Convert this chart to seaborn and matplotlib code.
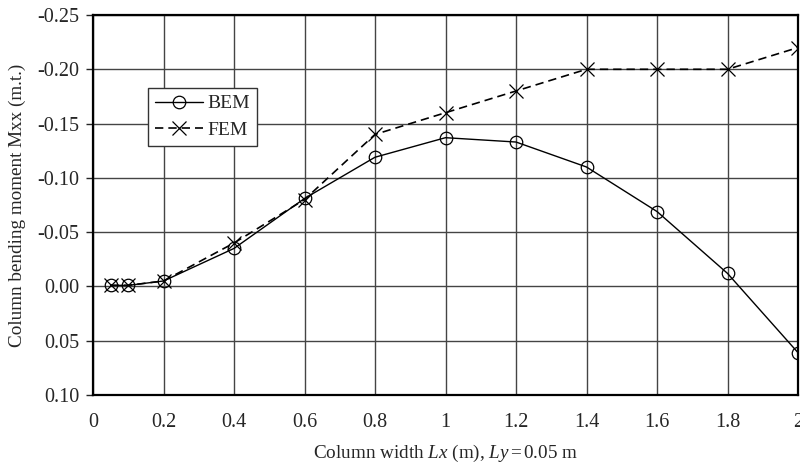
import matplotlib
matplotlib.use("Agg")
import matplotlib.pyplot as plt
import seaborn as sns
import pandas as pd
from matplotlib.ticker import FuncFormatter

# Data
lx = [0.05, 0.1, 0.2, 0.4, 0.6, 0.8, 1.0, 1.2, 1.4, 1.6, 1.8, 2.0]
bem = [-0.001, -0.001, -0.005, -0.035, -0.081, -0.119, -0.137, -0.133, -0.110, -0.069, -0.012, 0.061]
fem = [-0.001, -0.001, -0.005, -0.040, -0.080, -0.140, -0.160, -0.180, -0.200, -0.200, -0.200, -0.220]
xticks = [0, 0.2, 0.4, 0.6, 0.8, 1.0, 1.2, 1.4, 1.6, 1.8, 2.0]
yticks = [-0.25, -0.20, -0.15, -0.10, -0.05, 0.00, 0.05, 0.10]

df = pd.DataFrame({"x": lx, "BEM": bem, "FEM": fem})

sns.set_style("white")
plt.rcParams["font.family"] = ["Liberation Serif", "DejaVu Serif"]
plt.rcParams["mathtext.fontset"] = "custom"
plt.rcParams["mathtext.rm"] = "Liberation Serif"
plt.rcParams["mathtext.it"] = "Liberation Serif:italic"
plt.rcParams["axes.unicode_minus"] = False

fig = plt.figure(figsize=(8, 4.68), dpi=100)
ax = fig.add_axes([93 / 800, 1 - 395 / 468, 705 / 800, 380 / 468])

sns.lineplot(data=df, x="x", y="BEM", ax=ax, color="black", lw=1.0,
             marker="o", markersize=9, markerfacecolor="none",
             markeredgecolor="black", markeredgewidth=0.9, label="BEM")
sns.lineplot(data=df, x="x", y="FEM", ax=ax, color="black", lw=1.2,
             linestyle=(0, (5, 3)), marker="x", markersize=10,
             markeredgecolor="black", markeredgewidth=0.9, label="FEM")

ax.set_xlim(0, 2)
ax.set_ylim(0.10, -0.25)
ax.set_xticks(xticks)
ax.set_yticks(yticks)
ax.xaxis.set_major_formatter(FuncFormatter(lambda v, p: "%g" % v))
ax.yaxis.set_major_formatter(FuncFormatter(lambda v, p: "%.2f" % v))
ax.grid(True, color="#444444", lw=1.0)
ax.set_axisbelow(True)
for s in ax.spines.values():
    s.set_color("black")
    s.set_linewidth(1.6)

ax.tick_params(axis="y", left=True, length=5, width=1, pad=5, labelsize=14.5)
ax.tick_params(axis="x", bottom=False, length=0, pad=13, labelsize=14.5)

ax.set_xlabel(r"Column width $Lx$ (m), $Ly\,$=$\,$0.05 m", fontsize=13.8, labelpad=8)
ax.set_ylabel("Column bending moment Mxx (m.t.)", fontsize=13.8, labelpad=8)

leg = ax.legend(loc="upper left", bbox_to_anchor=(0.078, 0.808), borderaxespad=0,
                fontsize=14, frameon=True, fancybox=False, handlelength=2.5,
                handletextpad=0.2, borderpad=0.35, labelspacing=0.45)
leg.get_frame().set_edgecolor("#333333")
leg.get_frame().set_linewidth(1.0)
leg.get_frame().set_alpha(1)

fig.savefig("out.png", dpi=100)
